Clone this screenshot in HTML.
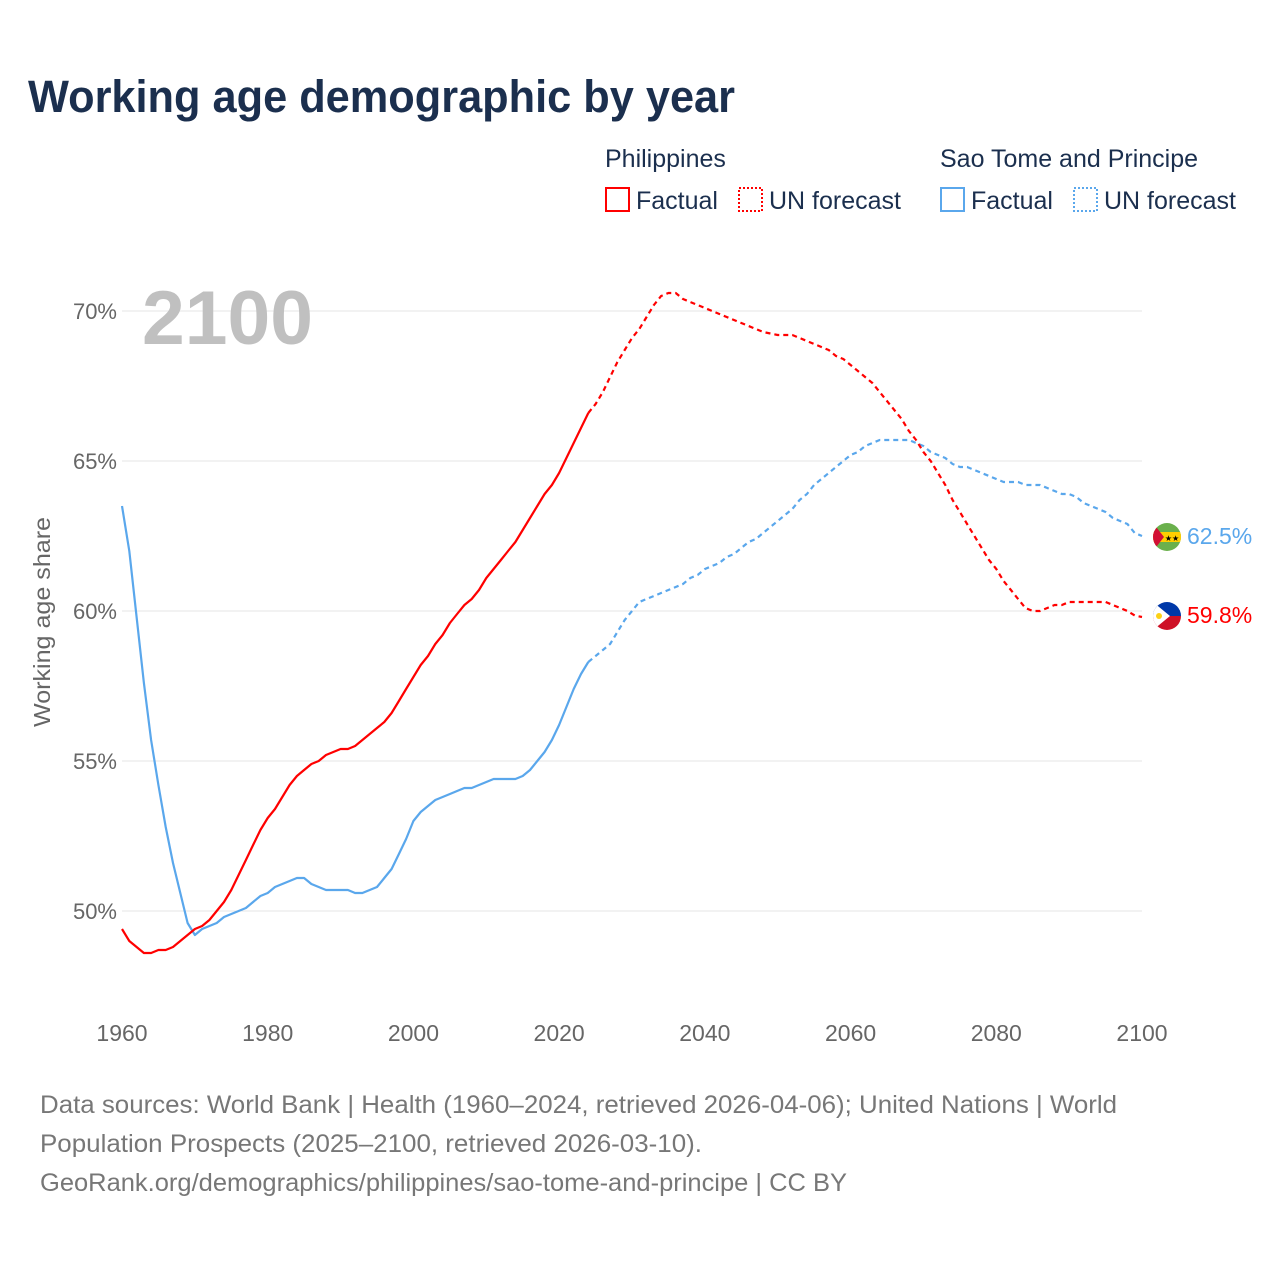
<!DOCTYPE html>
<html><head><meta charset="utf-8"><style>
body{margin:0;background:#fff;font-family:"Liberation Sans",sans-serif;}
#wrap{position:relative;width:1280px;height:1280px;overflow:hidden;}
</style></head><body>
<div id="wrap">
<svg id="chart" width="1280" height="1280"></svg>
</div>
<script>
const years=[];for(let y=1960;y<=2100;y++)years.push(y);
const phFactualEnd=2024;
const phValues=[49.4,49.0,48.8,48.6,48.6,48.7,48.7,48.8,49.0,49.2,49.4,49.5,49.7,50.0,50.3,50.7,51.2,51.7,52.2,52.7,
53.1,53.4,53.8,54.2,54.5,54.7,54.9,55.0,55.2,55.3,55.4,55.4,55.5,55.7,55.9,56.1,56.3,56.6,57.0,57.4,
57.8,58.2,58.5,58.9,59.2,59.6,59.9,60.2,60.4,60.7,61.1,61.4,61.7,62.0,62.3,62.7,63.1,63.5,63.9,64.2,
64.6,65.1,65.6,66.1,66.6,66.9,67.3,67.8,68.3,68.7,69.1,69.4,69.8,70.2,70.5,70.6,70.6,70.4,70.3,70.2,
70.1,70.0,69.9,69.8,69.7,69.6,69.5,69.4,69.3,69.25,69.2,69.2,69.2,69.1,69.0,68.9,68.8,68.7,68.5,68.4,
68.2,68.0,67.8,67.6,67.3,67.0,66.7,66.4,66.0,65.7,65.3,65.0,64.6,64.2,63.7,63.3,62.9,62.5,62.1,61.7,
61.4,61.0,60.7,60.4,60.1,60.0,60.0,60.1,60.2,60.2,60.3,60.3,60.3,60.3,60.3,60.3,60.2,60.1,60.0,59.85,59.8];
const stValues=[63.5,62.0,59.8,57.6,55.7,54.2,52.8,51.6,50.6,49.6,49.2,49.4,49.5,49.6,49.8,49.9,50.0,50.1,50.3,50.5,
50.6,50.8,50.9,51.0,51.1,51.1,50.9,50.8,50.7,50.7,50.7,50.7,50.6,50.6,50.7,50.8,51.1,51.4,51.9,52.4,
53.0,53.3,53.5,53.7,53.8,53.9,54.0,54.1,54.1,54.2,54.3,54.4,54.4,54.4,54.4,54.5,54.7,55.0,55.3,55.7,
56.2,56.8,57.4,57.9,58.3,58.5,58.7,58.9,59.3,59.7,60.0,60.3,60.4,60.5,60.6,60.7,60.8,60.9,61.1,61.2,
61.4,61.5,61.6,61.8,61.9,62.1,62.3,62.4,62.6,62.8,63.0,63.2,63.4,63.7,63.9,64.2,64.4,64.6,64.8,65.0,
65.2,65.3,65.5,65.6,65.7,65.7,65.7,65.7,65.7,65.6,65.5,65.3,65.2,65.1,64.9,64.8,64.8,64.7,64.6,64.5,
64.4,64.3,64.3,64.3,64.2,64.2,64.2,64.1,64.0,63.9,63.9,63.8,63.6,63.5,63.4,63.3,63.1,63.0,62.9,62.6,62.5];
const yTicks=[50,55,60,65,70];
const xTicks=[1960,1980,2000,2020,2040,2060,2080,2100];

const NS='http://www.w3.org/2000/svg';
const svg=document.getElementById('chart');
const xS=y=>122+(y-1960)*(1020/140);
const yS=v=>911-(v-50)*30;
function el(tag,attrs,parent){const e=document.createElementNS(NS,tag);for(const k in attrs)e.setAttribute(k,attrs[k]);(parent||svg).appendChild(e);return e;}
function txt(s,attrs,name){const t=el('text',attrs);t.textContent=s;


return t;}

txt('Working age demographic by year',{x:28,y:112,'font-size':45,'font-weight':'bold',fill:'#1b2f4e',textLength:707,lengthAdjust:'spacingAndGlyphs'},'chart-title');

// legend
txt('Philippines',{x:605,y:167,'font-size':25,fill:'#1b2f4e'},'legend-title-philippines');
txt('Sao Tome and Principe',{x:940,y:167,'font-size':25,fill:'#1b2f4e'},'legend-title-sao-tome');
const leg=[[605,'#ff0000',false,'Factual','legend-ph-factual'],[738,'#ff0000',true,'UN forecast','legend-ph-forecast'],
[940,'#5aa7ec',false,'Factual','legend-st-factual'],[1073,'#5aa7ec',true,'UN forecast','legend-st-forecast']];
leg.forEach(l=>{
 const r=el('rect',{x:l[0]+1,y:188,width:23,height:23,fill:'none',stroke:l[1],'stroke-width':2,'stroke-dasharray':l[2]?'2,2':'none'});
 
 
 txt(l[3],{x:l[0]+31,y:209,'font-size':25,fill:'#1b2f4e'},l[4]);
});

// grid + y ticks
yTicks.forEach(v=>{
 const g=el('line',{x1:122,x2:1142,y1:yS(v),y2:yS(v),stroke:'#e6e6e6','stroke-width':1});
 
 
 txt(v+'%',{x:117,y:yS(v)+8,'font-size':22,fill:'#666','text-anchor':'end'},'y-tick-'+v);
});
xTicks.forEach(y=>{
 txt(String(y),{x:xS(y),y:1041,'font-size':23,fill:'#666','text-anchor':'middle'},'x-tick-'+y);
});
txt('Working age share',{x:0,y:0,'font-size':23,fill:'#666','text-anchor':'middle',transform:'translate(50,622) rotate(-90)',textLength:210,lengthAdjust:'spacingAndGlyphs'},'y-axis-title');
txt('2100',{x:142,y:344,'font-size':76,'font-weight':'bold',fill:'#c0c0c0',textLength:171,lengthAdjust:'spacingAndGlyphs'},'year-watermark');

function path(vals,from,to,color,dash,name){
 let d='';for(let i=0;i<years.length;i++){const y=years[i];if(y<from||y>to)continue;d+=(d?'L':'M')+xS(y).toFixed(1)+','+yS(vals[i]).toFixed(1);}
 const p=el('path',{d:d,fill:'none',stroke:color,'stroke-width':2.2,'stroke-dasharray':dash||'none','stroke-linejoin':'round'});
 
 
}
path(stValues,1960,phFactualEnd,'#5aa7ec',null,'sao-tome-factual-line');
path(stValues,phFactualEnd,2100,'#5aa7ec','5,4','sao-tome-forecast-line');
path(phValues,1960,phFactualEnd,'#ff0000',null,'philippines-factual-line');
path(phValues,phFactualEnd,2100,'#ff0000','5,4','philippines-forecast-line');

// end markers
const stEnd=stValues[stValues.length-1],phEnd=phValues[phValues.length-1];
function flag(cy,name,kind){
 const g=el('g',{});
 
 
 const cx=1167;
 const cp=el('clipPath',{id:'c'+kind},g);
 el('circle',{cx:cx,cy:cy,r:14},cp);
 const inner=el('g',{'clip-path':'url(#c'+kind+')'},g);
 if(kind==='st'){
  el('rect',{x:cx-14,y:cy-14,width:28,height:28,fill:'#6ab04c'},inner);
  el('rect',{x:cx-14,y:cy-5,width:28,height:10,fill:'#ffce00'},inner);
  el('polygon',{points:`${cx-14},${cy-14} ${cx-3},${cy} ${cx-14},${cy+14}`,fill:'#d21034'},inner);
  txt('★★',{x:cx+5,y:cy+4,'font-size':8,fill:'#000','text-anchor':'middle'},'flag-stars');
 }else{
  el('rect',{x:cx-14,y:cy-14,width:28,height:14,fill:'#0038a8'},inner);
  el('rect',{x:cx-14,y:cy,width:28,height:14,fill:'#ce1126'},inner);
  el('polygon',{points:`${cx-14},${cy-14} ${cx+3},${cy} ${cx-14},${cy+14}`,fill:'#fff'},inner);
  el('circle',{cx:cx-8,cy:cy,r:3,fill:'#fcd116'},inner);
 }
}
flag(yS(stEnd)+1,'sao-tome-flag-marker','st');
flag(yS(phEnd)-1,'philippines-flag-marker','ph');
txt(stEnd.toFixed(1)+'%',{x:1187,y:yS(stEnd)+8,'font-size':23,fill:'#5aa7ec'},'sao-tome-end-label');
txt(phEnd.toFixed(1)+'%',{x:1187,y:yS(phEnd)+6,'font-size':23,fill:'#ff0000'},'philippines-end-label');

// footer
const foot=['Data sources: World Bank | Health (1960–2024, retrieved 2026-04-06); United Nations | World','Population Prospects (2025–2100, retrieved 2026-03-10).','GeoRank.org/demographics/philippines/sao-tome-and-principe | CC BY'];
const footLen=[1077,662,807];
foot.forEach((s,i)=>txt(s,{x:40,y:1113+i*39,'font-size':25,fill:'#777',textLength:footLen[i],lengthAdjust:'spacingAndGlyphs'},'footer-line-'+(i+1)));
</script>
</body></html>
